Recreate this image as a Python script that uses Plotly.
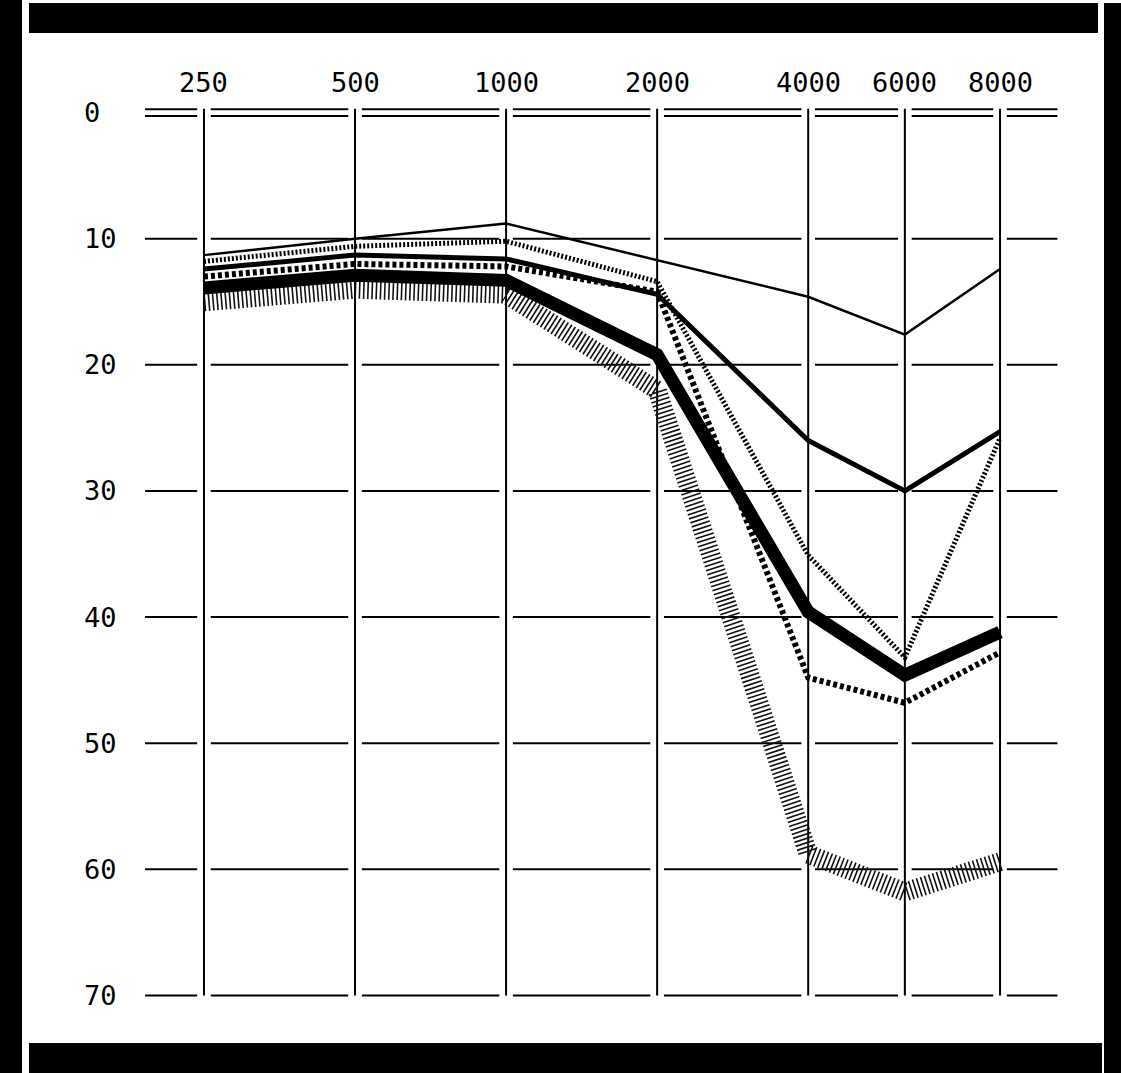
import plotly.graph_objects as go

# ---------------- data ----------------
freq_labels = ["250", "500", "1000", "2000", "4000", "6000", "8000"]
# horizontal position of each frequency on the audiogram (octave units from 250 Hz)
freq_axis_pos = [0, 1, 2, 3, 4, 4.64, 5.27]
db_ticks = [0, 10, 20, 30, 40, 50, 60, 70]

thin_solid = [11.3, 10.0, 8.8, 11.7, 14.6, 17.6, 12.4]
medium_solid = [12.4, 11.3, 11.6, 14.4, 26.0, 30.0, 25.3]
thick_solid = [13.9, 12.9, 13.3, 19.2, 39.6, 44.6, 41.2]
dotted_hatch = [11.8, 10.6, 10.2, 13.4, 35.1, 43.2, 25.8]
dashed_hatch = [13.0, 12.0, 12.2, 14.2, 44.8, 46.8, 42.8]
wide_hatch = [15.0, 14.0, 14.4, 22.0, 58.8, 61.8, 59.4]

# ---------------- figure geometry ----------------
W, H = 1121, 1073
ML, MR, MT, MB = 136, 53, 100, 65
PW, PH = W - ML - MR, H - MT - MB
XR = [-0.45, 5.72]
YR = [71, -1]


def px_x(px):
    return (px - ML) / PW


def px_y(py):
    return 1 - (py - MT) / PH


fig = go.Figure()

# ---------------- traces ----------------
fig.add_trace(go.Scatter(x=freq_axis_pos, y=wide_hatch, mode="lines",
                         line=dict(color="#111", width=19, dash="1.6px,2.6px"),
                         hoverinfo="skip"))
fig.add_trace(go.Scatter(x=freq_axis_pos, y=dashed_hatch, mode="lines",
                         line=dict(color="black", width=6, dash="4px,3px"),
                         hoverinfo="skip"))
fig.add_trace(go.Scatter(x=freq_axis_pos, y=dotted_hatch, mode="lines",
                         line=dict(color="black", width=5, dash="2px,2px"),
                         hoverinfo="skip"))
fig.add_trace(go.Scatter(x=freq_axis_pos, y=thick_solid, mode="lines",
                         line=dict(color="black", width=13),
                         hoverinfo="skip"))
fig.add_trace(go.Scatter(x=freq_axis_pos, y=medium_solid, mode="lines",
                         line=dict(color="black", width=5),
                         hoverinfo="skip"))
fig.add_trace(go.Scatter(x=freq_axis_pos, y=thin_solid, mode="lines",
                         line=dict(color="black", width=2.5),
                         hoverinfo="skip"))

# ---------------- grid ----------------
shapes = []
gap = 0.045
x_left, x_right = -0.39, 5.65
bounds = [x_left] + list(freq_axis_pos) + [x_right]
for d in db_ticks:
    levels = [d - 0.27, d + 0.27] if d == 0 else [d]
    for yv in levels:
        for i in range(len(bounds) - 1):
            a = bounds[i] + (gap if i > 0 else 0)
            b = bounds[i + 1] - (gap if i < len(bounds) - 2 else 0)
            shapes.append(dict(type="line", xref="x", yref="y", x0=a, x1=b,
                               y0=yv, y1=yv, layer="below",
                               line=dict(color="black", width=2)))
for p in freq_axis_pos:
    shapes.append(dict(type="line", xref="x", yref="y", x0=p, x1=p,
                       y0=-0.3, y1=70, layer="below",
                       line=dict(color="black", width=2)))

# ---------------- black scan frame ----------------
def rect(x0, y0, x1, y1):
    return dict(type="rect", xref="paper", yref="paper",
                x0=px_x(x0), x1=px_x(x1), y0=px_y(y1), y1=px_y(y0),
                fillcolor="black", line=dict(width=0), layer="above")

shapes += [
    rect(0, 0, 22, 1073),
    rect(1104, 3, 1121, 1073),
    rect(29, 3, 1098, 33),
    rect(29, 1043, 1102, 1073),
]

# ---------------- labels ----------------
annotations = []
font = dict(family="DejaVu Sans Mono", size=27, color="black")
for lab, p in zip(freq_labels, freq_axis_pos):
    annotations.append(dict(x=p, y=px_y(83), xref="x", yref="paper", text=lab,
                            showarrow=False, xanchor="center", yanchor="middle",
                            font=font))
for d in db_ticks:
    annotations.append(dict(x=px_x(82), y=d, xref="paper", yref="y", text=str(d),
                            showarrow=False, xanchor="left", yanchor="middle",
                            font=font))

fig.update_layout(
    width=W, height=H,
    margin=dict(l=ML, r=MR, t=MT, b=MB),
    paper_bgcolor="white", plot_bgcolor="white",
    showlegend=False,
    shapes=shapes, annotations=annotations,
    xaxis=dict(range=XR, visible=False, fixedrange=True),
    yaxis=dict(range=YR, visible=False, fixedrange=True),
)

fig.write_html("out.html")
